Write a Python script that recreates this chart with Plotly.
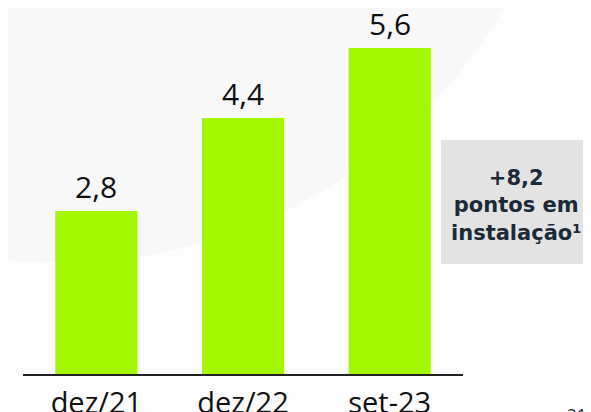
import plotly.graph_objects as go

# dados
periodos = ["dez/21", "dez/22", "set-23"]
valores = [2.8, 4.4, 5.6]
destaque = ["+8,2", "pontos em", "instalação¹"]
pagina = "21"

# deslocamento da figura dentro da página (margem do body)
OFF_X, OFF_Y = 8, 8
W, H = 591 - OFF_X, 412 - OFF_Y
L, R, B, T = 15, 128, 38, 0
Y_MAX = (374 - OFF_Y) / 58.2

def px_x(px):
    return (px - OFF_X - L) / (W - L - R)

def px_y(py):
    return (H - B - (py - OFF_Y)) / (H - B - T)

rotulos = [f"{v:.1f}".replace(".", ",") for v in valores]

fig = go.Figure()
fig.add_trace(go.Bar(
    x=periodos,
    y=valores,
    marker_color="#A3F700",
    marker_line_width=0,
    hoverinfo="skip",
))

# rótulos acima das barras
for p, v, t in zip(periodos, valores, rotulos):
    fig.add_annotation(
        x=p, y=v, text=t, showarrow=False,
        xref="x", yref="y", yanchor="bottom", yshift=2,
        font=dict(family="Open Sans", size=30, color="#111111"),
    )

# fundo: círculo suave
fig.add_shape(
    type="circle", xref="paper", yref="paper", layer="below",
    x0=px_x(60 - 514), x1=px_x(60 + 514),
    y0=px_y(-251 + 514), y1=px_y(-251 - 514),
    fillcolor="#F8F8F8", line_width=0,
)

# caixa de destaque
fig.add_shape(
    type="rect", xref="paper", yref="paper", layer="below",
    x0=px_x(441), x1=px_x(600), y0=px_y(264), y1=px_y(140),
    fillcolor="#E3E3E3", line_width=0,
)
fig.add_annotation(
    xref="paper", yref="paper", x=px_x(516), y=px_y(205),
    text="<br>".join(destaque), showarrow=False, align="center",
    xanchor="center", yanchor="middle",
    font=dict(family="DejaVu Sans", size=21, color="#1B2A38", weight="bold"),
)

# número da página
fig.add_annotation(
    xref="paper", yref="paper", x=px_x(565), y=px_y(401),
    text=pagina, showarrow=False, xanchor="left", yanchor="top",
    font=dict(family="Open Sans", size=17, color="#1B2A38"),
)

fig.update_layout(
    width=W, height=H,
    margin=dict(l=L, r=R, b=B, t=T, pad=0, autoexpand=False),
    paper_bgcolor="#FDFDFD",
    plot_bgcolor="rgba(0,0,0,0)",
    bargap=0.44,
    showlegend=False,
    xaxis=dict(
        range=[-0.5, 2.5], showgrid=False, zeroline=False,
        showline=True, linecolor="#222222", linewidth=2,
        ticks="", ticklabelstandoff=2, automargin=False,
        tickfont=dict(family="Open Sans", size=29, color="#111111"),
    ),
    yaxis=dict(
        range=[0, Y_MAX], showgrid=False, zeroline=False, automargin=False,
        showticklabels=False, showline=False,
    ),
)

fig.write_html("out.html")
